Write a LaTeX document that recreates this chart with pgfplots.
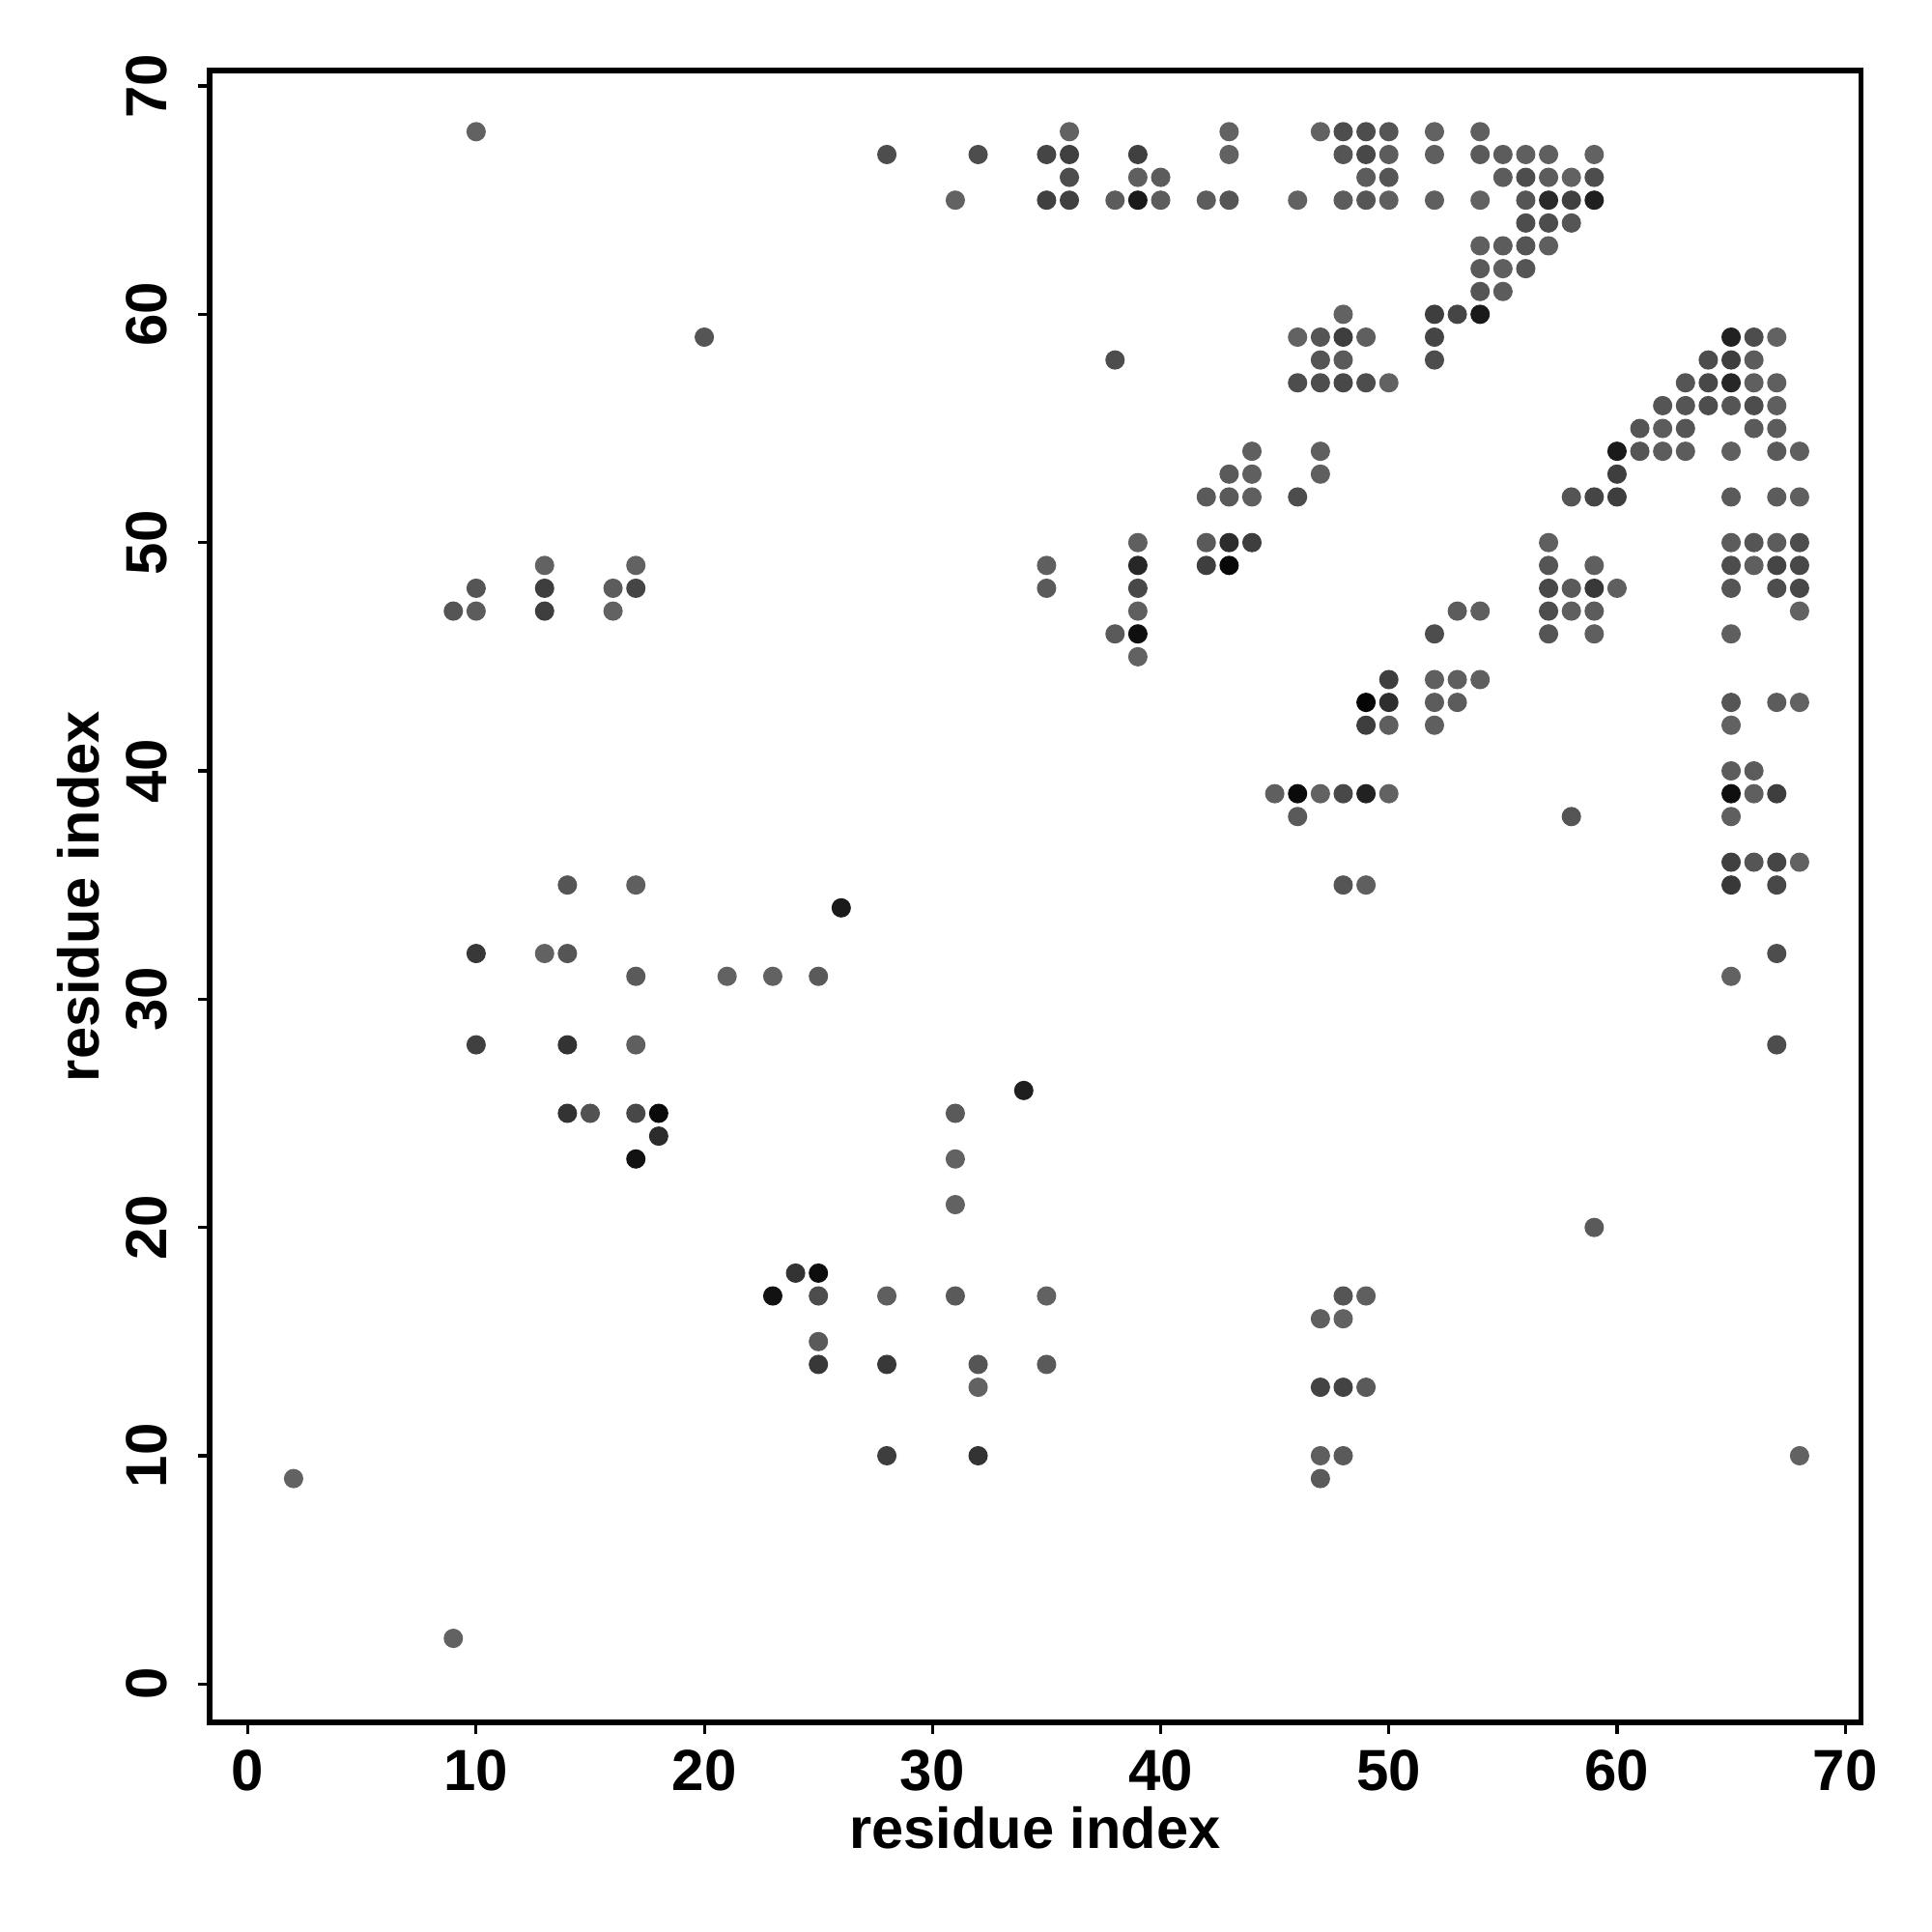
\documentclass[border=0pt]{standalone}
\usepackage{fontspec}
\setmainfont{Liberation Sans}
\usepackage{pgfplots}
\pgfplotsset{compat=1.18}
\pgfplotsset{colormap={bw}{gray(0cm)=(0); gray(1cm)=(1)}}
\pgfplotstableread{
x y g
10 68 .38
36 68 .38
43 68 .38
47 68 .38
48 68 .30
49 68 .30
50 68 .33
52 68 .38
54 68 .37
28 67 .30
32 67 .30
35 67 .27
36 67 .25
39 67 .25
43 67 .38
48 67 .33
49 67 .28
50 67 .36
52 67 .37
54 67 .35
55 67 .36
56 67 .37
57 67 .37
59 67 .38
36 66 .30
39 66 .37
40 66 .36
49 66 .36
50 66 .33
55 66 .36
56 66 .30
57 66 .36
58 66 .38
59 66 .30
31 65 .38
35 65 .25
36 65 .25
38 65 .36
39 65 .10
40 65 .36
42 65 .36
43 65 .33
46 65 .38
48 65 .36
49 65 .33
50 65 .37
52 65 .37
54 65 .38
56 65 .33
57 65 .16
58 65 .25
59 65 .12
56 64 .30
57 64 .30
58 64 .33
54 63 .37
55 63 .36
56 63 .33
57 63 .37
54 62 .35
55 62 .37
56 62 .33
54 61 .33
55 61 .36
48 60 .38
52 60 .24
53 60 .27
54 60 .10
20 59 .33
46 59 .38
47 59 .33
48 59 .24
49 59 .37
52 59 .27
65 59 .13
66 59 .30
67 59 .38
38 58 .30
47 58 .33
48 58 .35
52 58 .30
64 58 .30
65 58 .24
66 58 .36
46 57 .30
47 57 .30
48 57 .28
49 57 .30
50 57 .38
63 57 .33
64 57 .28
65 57 .15
66 57 .37
67 57 .37
62 56 .33
63 56 .33
64 56 .30
65 56 .33
66 56 .30
67 56 .37
61 55 .33
62 55 .36
63 55 .33
66 55 .35
67 55 .36
44 54 .37
47 54 .37
60 54 .10
61 54 .33
62 54 .36
63 54 .36
65 54 .37
67 54 .35
68 54 .37
43 53 .35
44 53 .37
47 53 .37
60 53 .24
42 52 .35
43 52 .35
44 52 .37
46 52 .30
58 52 .33
59 52 .27
60 52 .24
65 52 .35
67 52 .36
68 52 .37
39 50 .37
42 50 .35
43 50 .17
44 50 .24
57 50 .37
65 50 .36
66 50 .33
67 50 .36
68 50 .30
13 49 .38
17 49 .38
35 49 .37
39 49 .15
42 49 .24
43 49 .03
57 49 .33
59 49 .37
65 49 .30
66 49 .37
67 49 .27
68 49 .28
10 48 .33
13 48 .24
16 48 .36
17 48 .27
35 48 .35
39 48 .28
57 48 .28
58 48 .35
59 48 .22
60 48 .37
65 48 .33
67 48 .30
68 48 .28
9 47 .33
10 47 .36
13 47 .24
16 47 .38
39 47 .37
53 47 .36
54 47 .37
57 47 .30
58 47 .37
59 47 .36
68 47 .38
38 46 .35
39 46 .06
52 46 .30
57 46 .33
59 46 .37
65 46 .37
39 45 .38
50 44 .24
52 44 .37
53 44 .37
54 44 .37
49 43 .02
50 43 .18
52 43 .36
53 43 .36
65 43 .33
67 43 .36
68 43 .38
49 42 .24
50 42 .37
52 42 .37
65 42 .38
65 40 .36
66 40 .36
45 39 .37
46 39 .04
47 39 .38
48 39 .28
49 39 .13
50 39 .38
65 39 .06
66 39 .37
67 39 .24
46 38 .35
58 38 .33
65 38 .37
65 36 .25
66 36 .33
67 36 .27
68 36 .38
14 35 .33
17 35 .37
48 35 .33
49 35 .37
65 35 .22
67 35 .28
26 34 .10
10 32 .22
13 32 .38
14 32 .33
67 32 .30
17 31 .35
21 31 .38
23 31 .38
25 31 .35
65 31 .38
10 28 .25
14 28 .20
17 28 .37
67 28 .30
34 26 .12
14 25 .20
15 25 .32
17 25 .28
18 25 .04
31 25 .35
18 24 .17
17 23 .07
31 23 .38
31 21 .38
59 20 .35
24 18 .20
25 18 .05
23 17 .07
25 17 .30
28 17 .37
31 17 .35
35 17 .38
48 17 .33
49 17 .37
47 16 .37
48 16 .38
25 15 .35
25 14 .22
28 14 .22
32 14 .33
35 14 .35
32 13 .38
47 13 .26
48 13 .26
49 13 .35
28 10 .24
32 10 .20
47 10 .37
48 10 .35
68 10 .38
2 9 .38
47 9 .35
9 2 .38
}\contacts
\begin{document}
\begin{tikzpicture}
\path[use as bounding box] (-54.25pt,-54.25pt) rectangle (445.75pt,445.75pt);
\begin{axis}[
  name=ax,
  at={(0pt,0pt)}, anchor=south west,
  scale only axis,
  width=427.3pt, height=427.5pt,
  xmin=-1.68, xmax=70.68, ymin=-1.68, ymax=70.68,
  xtick={0,10,...,70}, ytick={0,10,...,70},
  xtick pos=bottom, ytick pos=left,
  tick align=outside,
  major tick length=3pt,
  every tick/.style={black, line width=0.8pt},
  axis line style={line width=1.3pt},
  x tick label style={font=\fontsize{15}{17}\selectfont\bfseries, anchor=north, inner sep=0pt},
  y tick label style={font=\fontsize{15}{17}\selectfont\bfseries, rotate=90, anchor=base, inner sep=0pt},
  xticklabel shift=4pt,
  yticklabel shift=8pt,
  /pgf/number format/assume math mode=true,
  colormap name=bw,
  point meta min=0, point meta max=1,
  clip=false,
]
\addplot[scatter, only marks, mark=*, mark size=2.3pt,
  scatter src=explicit,
  scatter/use mapped color={draw=mapped color, fill=mapped color}]
  table[x=x, y=y, meta=g] {\contacts};
\end{axis}
\node[font=\fontsize{14.9}{17}\selectfont\bfseries, anchor=base] at ([yshift=-32.5pt]ax.south) {residue index};
\node[font=\fontsize{14.9}{17}\selectfont\bfseries, rotate=90, anchor=base] at ([xshift=-28.75pt]ax.west) {residue index};
\end{tikzpicture}
\end{document}
